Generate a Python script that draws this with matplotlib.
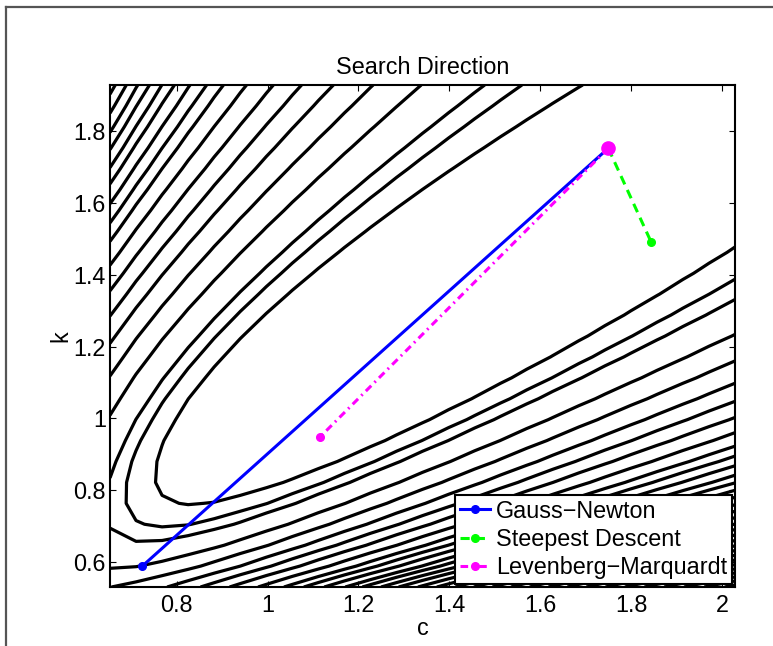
import numpy as np
import matplotlib
matplotlib.use("Agg")
import matplotlib.pyplot as plt
from matplotlib.lines import Line2D
from matplotlib.ticker import FormatStrFormatter

plt.rcParams['font.family'] = ['Liberation Sans', 'DejaVu Sans']

# --- search steps (c, k) ---
start_c = [1.75]
start_k = [1.752]
gn_c = [1.75, 0.724]
gn_k = [1.752, 0.589]
sd_c = [1.75, 1.844]
sd_k = [1.752, 1.492]
lm_c = [1.75, 1.115]
lm_k = [1.752, 0.948]

c_lim = (0.653, 2.029)
k_lim = (0.531, 1.928)
c_ticks = [0.8, 1.0, 1.2, 1.4, 1.6, 1.8, 2.0]
k_ticks = [0.6, 0.8, 1.0, 1.2, 1.4, 1.6, 1.8]

# misfit surface of a damped oscillator y'' + c y' + k y = 0, y(0)=1, y'(0)=0
c_true, k_true = 1.25, 1.2
t = np.linspace(0, 5, 60)
# points the contours pass through: tip of the inner loop, then top-edge crossings
inner_pt = (0.688, 0.829)
top_cross = [1.693, 1.477, 1.338, 1.232, 1.144, 1.074, 1.012, 0.953, 0.902,
             0.865, 0.829, 0.794, 0.767, 0.739, 0.714, 0.688, 0.664]
n_extra = 30


def response(c, k):
    c = np.asarray(c, float)
    k = np.asarray(k, float)
    lam = np.sqrt((c ** 2 / 4 - k).astype(complex))
    lam = np.where(np.abs(lam) < 1e-9, 1e-9, lam)
    a = -c / 2
    b = -a / lam
    tt = t.reshape((1,) * c.ndim + (-1,))
    y = np.exp(a[..., None] * tt) * (np.cosh(lam[..., None] * tt) + b[..., None] * np.sinh(lam[..., None] * tt))
    return y.real


def misfit(c, k):
    d = response(np.array(c_true), np.array(k_true))
    return ((response(c, k) - d) ** 2).sum(-1)


cg = np.linspace(c_lim[0], c_lim[1], 25)
kg = np.linspace(k_lim[0], k_lim[1], 25)
C, K = np.meshgrid(cg, kg)
F = misfit(C, K)
lv = [float(misfit(np.array(inner_pt[0]), np.array(inner_pt[1])))]
lv += [float(misfit(np.array(c), np.array(k_lim[1]))) for c in top_cross]
lv = np.unique(np.round(lv, 9))
dl = np.mean(np.diff(lv[-4:])) if len(lv) > 1 else 0.0
dl = max(dl, 0.05 * lv[-1], 1e-6)
levels = np.concatenate([lv, lv[-1] + dl * np.arange(1, n_extra + 1)])

fig = plt.figure(figsize=(7.73, 6.46), dpi=100)
ax = fig.add_axes([110 / 773, 1 - 587 / 646, 625 / 773, 502 / 646])

ax.contour(C, K, F, levels=levels, colors='k', linewidths=2.3)

ax.plot(gn_c, gn_k, '-', color='b', lw=2.2, marker='o', ms=5.5, label='Gauss\u2212Newton')
ax.plot(sd_c, sd_k, '--', color='#00ff00', lw=2.2, marker='o', ms=5.5, dashes=(3, 2),
        label='Steepest Descent')
ax.plot(lm_c, lm_k, '-.', color='#ff00ff', lw=2.2, marker='o', ms=5.5, dashes=(2.5, 1.5, 0.6, 1.5),
        label='Levenberg\u2212Marquardt')
ax.plot(start_c, start_k, 'o', color='#ff00ff', ms=9.5)

ax.set_xlim(*c_lim)
ax.set_ylim(*k_lim)
ax.set_xticks(c_ticks)
ax.set_yticks(k_ticks)
ax.xaxis.set_major_formatter(FormatStrFormatter('%g'))
ax.yaxis.set_major_formatter(FormatStrFormatter('%g'))
ax.tick_params(direction='in', top=True, right=True, length=4, width=0.8, labelsize=16.8)
ax.tick_params(axis='x', pad=5)
ax.tick_params(axis='y', pad=3)
for s in ax.spines.values():
    s.set_linewidth(1.5)

ax.set_title('Search Direction', fontsize=16.8, pad=8)
ax.set_xlabel('c', fontsize=16.8, labelpad=0)
ax.set_ylabel('k', fontsize=16.8, labelpad=1)

leg = ax.legend(loc='lower right', fontsize=16.8, fancybox=False, framealpha=1,
                edgecolor='k', borderaxespad=0.15, borderpad=0.2, labelspacing=0.22,
                handlelength=1.3, handletextpad=0.25)
leg.get_frame().set_linewidth(1.5)

# grey frame around the figure
fig.add_artist(Line2D([6.5 / 773, 1], [1 - 6.5 / 646] * 2, color='#555555', lw=1.6))
fig.add_artist(Line2D([6.5 / 773] * 2, [0, 1 - 6.5 / 646], color='#555555', lw=1.6))

fig.savefig('out.png', dpi=100)
